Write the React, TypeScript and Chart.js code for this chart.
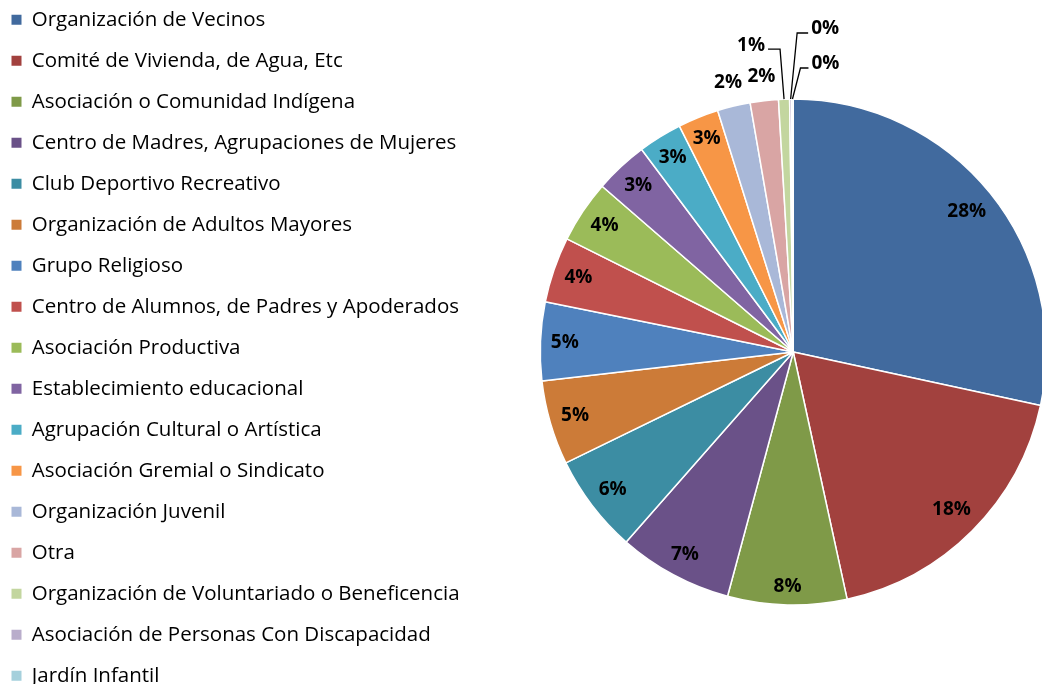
import React, { useEffect, useRef } from "react";
import { Chart, registerables } from "chart.js";

Chart.register(...registerables);

const categories: string[] = [
  "Organización de Vecinos",
  "Comité de Vivienda, de Agua, Etc",
  "Asociación o Comunidad Indígena",
  "Centro de Madres, Agrupaciones de Mujeres",
  "Club Deportivo Recreativo",
  "Organización de Adultos Mayores",
  "Grupo Religioso",
  "Centro de Alumnos, de Padres y Apoderados",
  "Asociación Productiva",
  "Establecimiento educacional",
  "Agrupación Cultural o Artística",
  "Asociación Gremial o Sindicato",
  "Organización Juvenil",
  "Otra",
  "Organización de Voluntariado o Beneficencia",
  "Asociación de Personas Con Discapacidad",
  "Jardín Infantil",
];

const values: number[] = [
  28.4, 18.2, 7.6, 7.3, 6.3, 5.4, 5.0, 4.2, 4.0, 3.4, 2.8, 2.6, 2.1, 1.8, 0.7, 0.13, 0.1,
];

const colors: string[] = [
  "#416A9E", "#A2413E", "#7F9A48", "#6A5188", "#3C8DA3", "#CC7B38",
  "#4F81BD", "#C0504D", "#9BBB59", "#8064A2", "#4BACC6", "#F79646",
  "#A9B8D8", "#D9A5A4", "#C3D69F", "#B9ADCB", "#A5D0DC",
];

// callout leader offsets for very small slices (relative to the slice's outer edge point)
const callouts = [
  { dx: -4, dy: -50, len: -12 },
  { dx: 6.5, dy: -66, len: 11 },
  { dx: 8, dy: -31, len: 8 },
];

const FONT_FAMILY = "Open Sans";
const LEGEND_FONT = 20.5;
const ROW_PITCH = 41;
const LEGEND_PAD = ROW_PITCH - LEGEND_FONT;
const FIRST_ROW_Y = 20;
const BOX_X = 11;
const PIE_CX = 793;
const PIE_CY = 352;
const PIE_R = 253;
const CANVAS_LEFT = BOX_X - LEGEND_PAD;
const CANVAS_TOP = FIRST_ROW_Y - LEGEND_PAD - LEGEND_FONT / 2;
const CANVAS_H = Math.round(2 * (PIE_CY - CANVAS_TOP));

const labelPlugin = {
  id: "sliceLabels",
  afterDatasetsDraw(chart: any) {
    const ctx = chart.ctx as CanvasRenderingContext2D;
    const meta = chart.getDatasetMeta(0);
    const total = values.reduce((a, b) => a + b, 0);
    ctx.save();
    ctx.font = `bold 19px ${FONT_FAMILY}`;
    ctx.fillStyle = "#000";
    ctx.strokeStyle = "#000";
    ctx.lineWidth = 1.3;
    ctx.textBaseline = "middle";
    let ci = 0;
    meta.data.forEach((arc: any, i: number) => {
      const { x, y, startAngle, endAngle, outerRadius } = arc.getProps(
        ["x", "y", "startAngle", "endAngle", "outerRadius"],
        true
      );
      const frac = values[i] / total;
      const text = Math.round(frac * 100) + "%";
      const mid = (startAngle + endAngle) / 2;
      const c = Math.cos(mid);
      const s = Math.sin(mid);
      const w = ctx.measureText(text).width;
      if (frac >= 0.025) {
        const r = outerRadius - 10 - (w / 2) * Math.abs(c) - 8 * Math.abs(s);
        ctx.textAlign = "center";
        ctx.fillText(text, x + c * r, y + s * r);
      } else if (frac >= 0.015) {
        const r = outerRadius + 24;
        ctx.textAlign = "center";
        ctx.fillText(text, x + c * r, y + s * r);
      } else {
        const co = callouts[ci++];
        if (!co) return;
        const ex = x + c * outerRadius;
        const ey = y + s * outerRadius;
        const bx = ex + co.dx;
        const by = ey + co.dy;
        const tx = bx + co.len;
        ctx.beginPath();
        ctx.moveTo(ex, ey);
        ctx.lineTo(bx, by);
        ctx.lineTo(tx, by);
        ctx.stroke();
        ctx.textAlign = co.len < 0 ? "right" : "left";
        ctx.fillText(text, tx + (co.len < 0 ? -3 : 3), by - 4);
      }
    });
    ctx.restore();
  },
};

export default function App() {
  const ref = useRef<HTMLCanvasElement>(null);
  useEffect(() => {
    const canvas = ref.current!;
    const mctx = canvas.getContext("2d")!;
    mctx.font = `${LEGEND_FONT}px ${FONT_FAMILY}`;
    const maxText = Math.max(...categories.map((c) => mctx.measureText(c).width));
    const legendW = LEGEND_PAD + 10 + LEGEND_FONT / 2 + maxText + 10;
    const W = Math.round(2 * (PIE_CX - CANVAS_LEFT) - legendW);
    canvas.width = W;
    canvas.height = CANVAS_H;
    canvas.style.width = W + "px";
    canvas.style.height = CANVAS_H + "px";

    const chart = new Chart(canvas, {
      type: "pie",
      data: {
        labels: categories,
        datasets: [
          {
            data: values,
            backgroundColor: colors,
            borderColor: "#ffffff",
            borderWidth: 1.5,
            radius: PIE_R,
          } as any,
        ],
      },
      options: {
        responsive: false,
        animation: false,
        layout: { padding: 0 },
        plugins: {
          tooltip: { enabled: false },
          legend: {
            position: "left",
            align: "start",
            labels: {
              boxWidth: 10,
              boxHeight: 10,
              padding: LEGEND_PAD,
              color: "#000",
              font: { family: FONT_FAMILY, size: LEGEND_FONT },
              generateLabels: () =>
                categories.map((t, i) => ({
                  text: t,
                  fillStyle: colors[i],
                  strokeStyle: colors[i],
                  lineWidth: 0,
                  hidden: false,
                  index: i,
                })),
            },
          },
        },
      },
      plugins: [labelPlugin],
    });
    return () => chart.destroy();
  }, []);

  return (
    <div
      style={{
        position: "fixed",
        left: 0,
        top: 0,
        width: 1042,
        height: 684,
        overflow: "hidden",
        background: "#fff",
      }}
    >
      <canvas
        ref={ref}
        style={{ position: "absolute", left: CANVAS_LEFT, top: CANVAS_TOP }}
      />
    </div>
  );
}
